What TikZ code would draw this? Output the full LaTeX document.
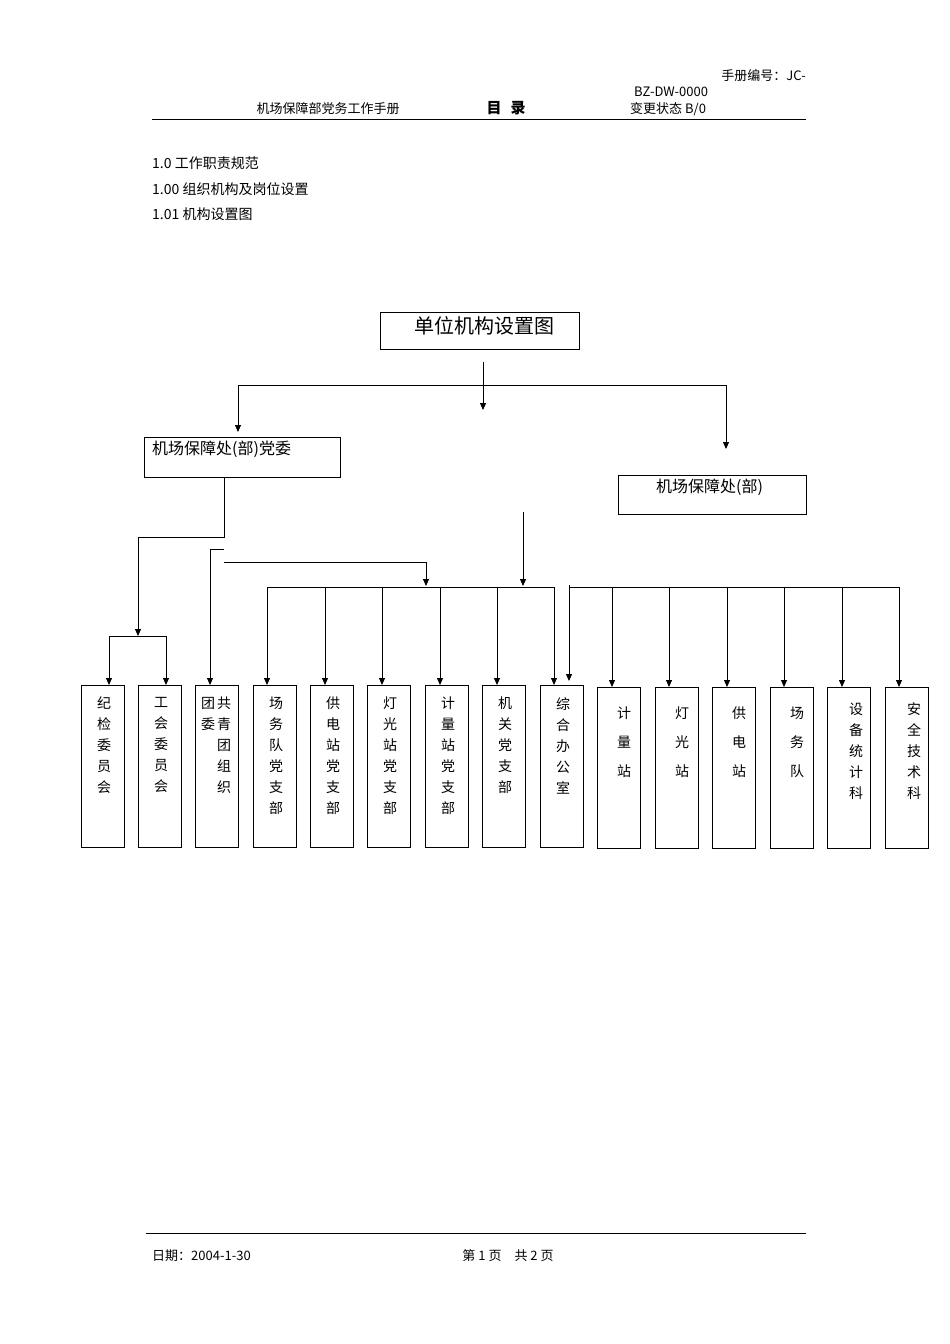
\documentclass[tikz,border=0pt]{standalone}
\usepackage{fontspec}
\setmainfont{Liberation Serif}
\newfontfamily\cjk{Noto Sans CJK SC}
\usetikzlibrary{arrows.meta}
\begin{document}
\begin{tikzpicture}[x=1pt,y=-1pt,
 ln/.style={line width=0.8pt},
 ar/.style={ln,-{Triangle[length=7pt,width=6pt]}},
 bx/.style={draw,line width=0.8pt},
 vt/.style={anchor=north,align=center,inner sep=0pt,font=\cjk\fontsize{14}{21}\selectfont},
 vw/.style={anchor=north,align=center,inner sep=0pt,font=\cjk\fontsize{14}{29}\selectfont},
 hd/.style={inner sep=0pt,font=\cjk\fontsize{13}{15}\selectfont}]
\useasboundingbox[fill=white] (0,0) rectangle (950,1344);
% header
\node[hd,anchor=east] (h1) at (806,76) {手册编号：JC-};
\node[hd,anchor=west] (h2) at (634,92) {BZ-DW-0000};
\node[hd,anchor=west] (h3) at (630,109) {变更状态 B/0};
\node[hd] (h4) at (328,109) {机场保障部党务工作手册};
\node[hd,font=\cjk\bfseries\fontsize{15}{15}\selectfont] (h5) at (506,108) {目\hspace{0.6em}录};
\draw[line width=1pt] (152,119) -- (806,119);
\node[hd,anchor=west,font=\cjk\fontsize{14}{15}\selectfont] (t1) at (152,163) {1.0 工作职责规范};
\node[hd,anchor=west,font=\cjk\fontsize{14}{15}\selectfont] (t2) at (152,189) {1.00 组织机构及岗位设置};
\node[hd,anchor=west,font=\cjk\fontsize{14}{15}\selectfont] (t3) at (152,214) {1.01 机构设置图};
% top boxes
\draw[bx] (380,312) rectangle (579,349);
\node[hd,font=\cjk\fontsize{20}{22}\selectfont] (top) at (484,326) {单位机构设置图};
\draw[bx] (144,437) rectangle (340,477);
\node[hd,font=\cjk\fontsize{16}{18}\selectfont,anchor=west] (L) at (152,449) {机场保障处(部)党委};
\draw[bx] (618,475) rectangle (806,514);
\node[hd,font=\cjk\fontsize{16}{18}\selectfont,anchor=west] (R) at (656,487) {机场保障处(部)};
% connectors top
\coordinate (a0) at (483,362);
\draw[ar] (a0) -- (483,410);
\draw[ln] (238,385) -- (726,385);
\draw[ar] (238,385) -- (238,432);
\draw[ar] (726,385) -- (726,449);
% left tree
\draw[ar] (224,477) -- (224,537) -- (138,537) -- (138,636);
\draw[ln] (109,636) -- (166,636);
\draw[ar] (109,636) -- (109,685);
\draw[ar] (166,636) -- (166,685);
\draw[ar] (224,549) -- (210,549) -- (210,685);
\draw[ar] (224,562) -- (426,562) -- (426,586);
\draw[ar] (523,512) -- (523,586);
\draw[ln] (267,587) -- (554,587);
\foreach \x in {267,325,382,440,497,554} \draw[ar] (\x,587) -- (\x,685);
\draw[ln] (569,585) -- (569,587) -- (899,587);
\draw[ar] (569,587) -- (569,681);
\foreach \x in {612,669,727,784,842,899} \draw[ar] (\x,587) -- (\x,687);
% bottom boxes
\foreach \l/\t in {81/纪\\检\\委\\员\\会,138/工\\会\\委\\员\\会,253/场\\务\\队\\党\\支\\部,310/供\\电\\站\\党\\支\\部,367/灯\\光\\站\\党\\支\\部,425/计\\量\\站\\党\\支\\部,482/机\\关\\党\\支\\部,540/综\\合\\办\\公\\室}{
 \draw[bx] (\l,685) rectangle (\l+43,847);
 \node[vt] at (\l+23,697) {\t};}
\draw[bx] (195,685) rectangle (238,847);
\node[vt] (tw1) at (208,697) {团\\委};
\node[vt] (tw2) at (224,697) {共\\青\\团\\组\\织};
\foreach \l/\t in {597/计\\量\\站,655/灯\\光\\站,712/供\\电\\站,770/场\\务\\队}{
 \draw[bx] (\l,687) rectangle (\l+43,848);
 \node[vw] at (\l+27,707) {\t};}
\foreach \l/\t in {827/设\\备\\统\\计\\科,885/安\\全\\技\\术\\科}{
 \draw[bx] (\l,687) rectangle (\l+43,848);
 \node[vt] at (\l+29,703) {\t};}
% footer
\draw[line width=0.8pt] (146,1233) -- (806,1233);
\node[hd,anchor=west] (f1) at (152,1256) {日期：2004-1-30};
\node[hd] (f2) at (508,1256) {第 1 页\quad 共 2 页};
\end{tikzpicture}
\end{document}
